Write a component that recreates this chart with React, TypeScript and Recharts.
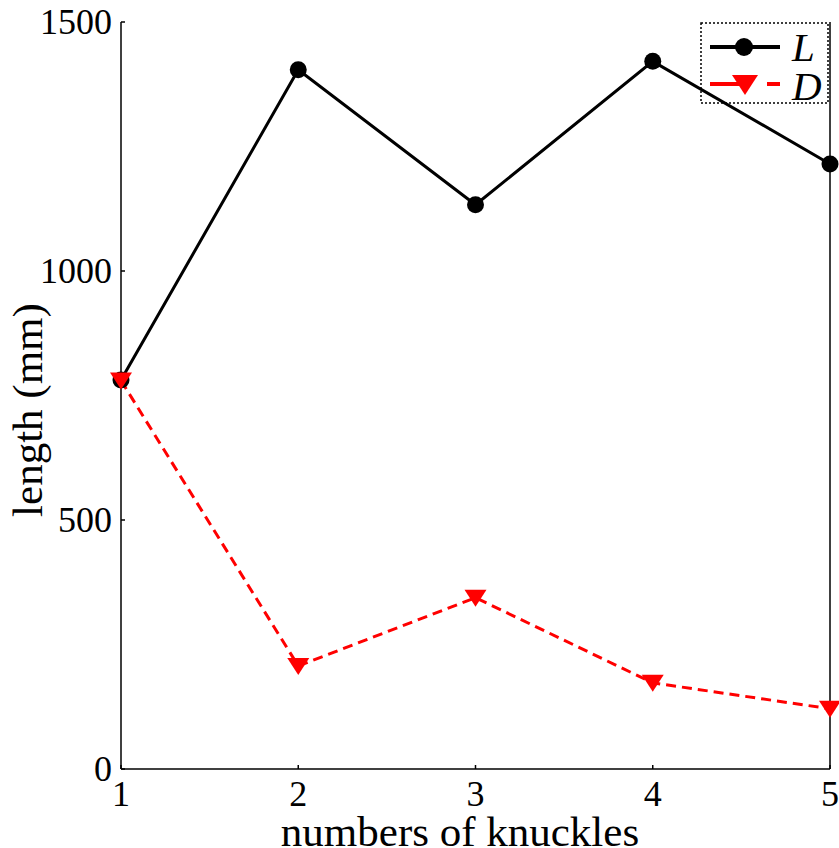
import React from "react";
import { LineChart, Line, XAxis, YAxis, Legend, Label } from "recharts";

const knuckles = [1, 2, 3, 4, 5];
const lengthL = [781, 1404, 1133, 1421, 1215];
const lengthD = [780, 207, 344, 173, 121];
const xTicks = [1, 2, 3, 4, 5];
const yTicks = [0, 500, 1000, 1500];

const data = knuckles.map((k, i) => ({ k, L: lengthL[i], D: lengthD[i] }));

const FONT = "Liberation Serif";
const TICK_FS = 36;
const LABEL_FS = 43;

const LeftTick = (p: any) => (
  <g>
    <line x1={p.x} x2={p.x + 4} y1={p.y} y2={p.y} stroke="#000" strokeWidth={1.5} />
    <text x={p.x - 9} y={p.y} textAnchor="end" dominantBaseline="central" fontFamily={FONT} fontSize={TICK_FS} fill="#000">
      {p.payload.value}
    </text>
  </g>
);
const RightTick = (p: any) => (
  <line x1={p.x} x2={p.x - 4} y1={p.y} y2={p.y} stroke="#000" strokeWidth={1.5} />
);
const BottomTick = (p: any) => (
  <g>
    <line x1={p.x} x2={p.x} y1={p.y} y2={p.y - 4} stroke="#000" strokeWidth={1.5} />
    <text x={p.x} y={p.y + 37} textAnchor="middle" fontFamily={FONT} fontSize={TICK_FS} fill="#000">
      {p.payload.value}
    </text>
  </g>
);
const TopTick = (p: any) => (
  <line x1={p.x} x2={p.x} y1={p.y} y2={p.y + 4} stroke="#000" strokeWidth={1.5} />
);

const TriDot = (p: any) => {
  const { cx, cy } = p;
  if (cx == null || cy == null) return null;
  return <path d={`M${cx - 11},${cy - 8} L${cx + 11},${cy - 8} L${cx},${cy + 9} Z`} fill="#ff0000" />;
};

const XLabel = () => (
  <text x={460} y={846} textAnchor="middle" fontFamily={FONT} fontSize={LABEL_FS} fill="#000">
    numbers of knuckles
  </text>
);
const YLabel = () => (
  <text x={42} y={410} transform="rotate(-90, 42, 410)" textAnchor="middle" fontFamily={FONT} fontSize={LABEL_FS} fill="#000">
    length (mm)
  </text>
);

const LegendBox = () => (
  <svg width={129} height={82} style={{ display: "block" }}>
    <rect x={1} y={1} width={127} height={80} fill="none" stroke="#000" strokeWidth={1.5} strokeDasharray="2 2" />
    <line x1={10} x2={80} y1={25} y2={25} stroke="#000" strokeWidth={4} />
    <circle cx={44} cy={25} r={9} fill="#000" />
    <text x={92} y={39} fontFamily={FONT} fontStyle="italic" fontSize={41} fill="#000">L</text>
    <line x1={10} x2={45} y1={62} y2={62} stroke="#ff0000" strokeWidth={4} />
    <line x1={67} x2={80} y1={62} y2={62} stroke="#ff0000" strokeWidth={4} />
    <path d="M32,53 L58,53 L45,73 Z" fill="#ff0000" />
    <text x={92} y={78} fontFamily={FONT} fontStyle="italic" fontSize={41} fill="#000">D</text>
  </svg>
);

export default function App() {
  return (
    <div style={{ position: "absolute", left: 0, top: 0, width: 839, height: 848, background: "#fff" }}>
      <LineChart width={839} height={848} data={data} margin={{ top: 22, right: 0, bottom: 0, left: 0 }}>
        <XAxis
          dataKey="k"
          type="number"
          domain={[1, 5]}
          ticks={xTicks}
          height={79}
          tickSize={0}
          tickMargin={0}
          tick={<BottomTick />}
          axisLine={{ stroke: "#000", strokeWidth: 1.5 }}
          tickLine={false}
          interval={0}
        >
          <Label content={<XLabel />} />
        </XAxis>
        <XAxis
          xAxisId="top"
          orientation="top"
          dataKey="k"
          type="number"
          domain={[1, 5]}
          ticks={xTicks}
          height={0}
          tickSize={0}
          tickMargin={0}
          tick={<TopTick />}
          axisLine={{ stroke: "#000", strokeWidth: 1.5 }}
          tickLine={false}
          interval={0}
        />
        <YAxis
          type="number"
          domain={[0, 1500]}
          ticks={yTicks}
          width={121}
          tickSize={0}
          tickMargin={0}
          tick={<LeftTick />}
          axisLine={{ stroke: "#000", strokeWidth: 1.5 }}
          tickLine={false}
          interval={0}
        >
          <Label content={<YLabel />} />
        </YAxis>
        <YAxis
          yAxisId="r"
          orientation="right"
          type="number"
          domain={[0, 1500]}
          ticks={yTicks}
          width={9}
          tickSize={0}
          tickMargin={0}
          tick={<RightTick />}
          axisLine={{ stroke: "#000", strokeWidth: 1.5 }}
          tickLine={false}
          interval={0}
        />
        <Legend
          layout="horizontal"
          verticalAlign="middle"
          align="center"
          content={() => <LegendBox />}
          wrapperStyle={{ position: "absolute", left: 700, top: 22, width: 129, height: 82 }}
        />
        <Line
          type="linear"
          dataKey="L"
          stroke="#000"
          strokeWidth={3}
          dot={{ r: 8.5, fill: "#000", stroke: "#000", strokeWidth: 0 }}
          activeDot={false}
          isAnimationActive={false}
        />
        <Line
          type="linear"
          dataKey="D"
          stroke="#ff0000"
          strokeWidth={3}
          strokeDasharray="10 6"
          dot={<TriDot />}
          activeDot={false}
          isAnimationActive={false}
        />
      </LineChart>
    </div>
  );
}
